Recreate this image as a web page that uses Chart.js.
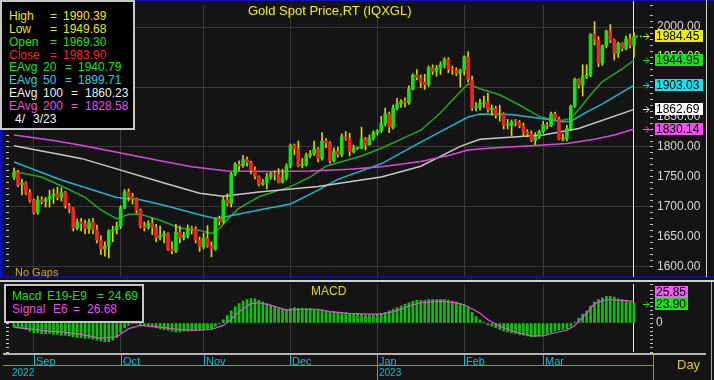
<!DOCTYPE html>
<html>
<head>
<meta charset="utf-8">
<title>Gold Spot Price</title>
<script src="https://cdn.jsdelivr.net/npm/chart.js@4.4.1/dist/chart.umd.min.js"></script>
<style>
  html, body { margin: 0; padding: 0; }
  body { width: 714px; height: 380px; background: #141414; position: relative; overflow: hidden; font-family: Arial, "Liberation Sans", sans-serif; }
  .abs { position: absolute; }
  .txt { position: absolute; white-space: pre; line-height: 1; }
  .box { position: absolute; background: #000; border: 2px solid #c8c8c8; box-sizing: border-box; }
</style>
</head>
<body>
<!-- frame lines -->
<div class="abs" style="left:0;top:0;width:714px;height:1px;background:#1010c0"></div>
<div class="abs" style="left:0;top:0;width:3px;height:278px;background:#1010b0"></div>
<div class="abs" style="left:0;top:276px;width:714px;height:2px;background:#10108c"></div>
<div class="abs" style="left:0;top:280px;width:714px;height:2px;background:#cfcfcf"></div>
<div class="abs" style="left:706px;top:0;width:1px;height:277px;background:#d0d0d0"></div>
<div class="abs" style="left:711px;top:282px;width:1px;height:98px;background:#a8a8a8"></div>

<div class="abs" style="left:3px;top:1px;width:703px;height:276px"><canvas id="priceChart"></canvas></div>
<div class="abs" style="left:3px;top:283px;width:703px;height:97px"><canvas id="macdChart"></canvas></div>

<div class="box" style="left:0;top:0;width:135px;height:130px"></div>
<div class="box" style="left:4px;top:284px;width:140px;height:39px"></div>

<script>
// Data: one bar per weekday, 25 Aug 2022 .. 3 Apr 2023
const monthLabels = ["Sep", "Oct", "Nov", "Dec", "Jan", "Feb", "Mar"];
const monthStart = [5, 27, 48, 70, 92, 114, 134];
const yearLabels = ["2022", "2023"];
const yearStart = [0, 92];

const opens = [
  1750, 1758, 1737, 1740, 1724,
  1711, 1691, 1712, 1709, 1713, 1718, 1722, 1716, 1724, 1702, 1697, 1665, 1675, 1672, 1664, 1675, 1662, 1645, 1630, 1635, 1660, 1662,
  1668, 1699, 1725, 1717, 1713, 1695, 1668, 1666, 1673, 1666, 1649, 1652, 1655, 1630, 1627, 1658, 1649, 1653, 1665, 1663, 1645,
  1634, 1648, 1635, 1630, 1681, 1676, 1712, 1706, 1755, 1771, 1769, 1779, 1774, 1761, 1751, 1738, 1740, 1750, 1755, 1754, 1741, 1749,
  1768, 1803, 1797, 1769, 1771, 1786, 1789, 1797, 1781, 1810, 1807, 1777, 1793, 1787, 1817, 1814, 1792, 1798, 1798, 1814, 1804, 1815,
  1824, 1827, 1839, 1855, 1833, 1865, 1872, 1876, 1874, 1897, 1920, 1916, 1908, 1904, 1932, 1926, 1931, 1937, 1946, 1930, 1928, 1923,
  1928, 1950, 1912, 1865, 1867, 1873, 1875, 1862, 1865, 1853, 1855, 1836, 1836, 1842, 1841, 1835, 1825, 1822, 1811, 1817,
  1826, 1837, 1835, 1855, 1847, 1813, 1814, 1831, 1868, 1913, 1903, 1918, 1920, 1988, 1978, 1940, 1969, 1993, 1978, 1956, 1973, 1964, 1980,
  1969.30
];
const highs = [
  1765, 1761, 1746, 1742, 1729,
  1713, 1718, 1717, 1716, 1728, 1730, 1733, 1732, 1726, 1706, 1699, 1680, 1681, 1678, 1680, 1681, 1670, 1652, 1642, 1662, 1668, 1675,
  1702, 1729, 1730, 1723, 1715, 1697, 1675, 1677, 1681, 1671, 1668, 1660, 1657, 1642, 1671, 1668, 1658, 1670, 1668, 1667, 1650,
  1656, 1669, 1642, 1682, 1685, 1716, 1722, 1758, 1774, 1777, 1786, 1783, 1776, 1767, 1752, 1746, 1756, 1758, 1760, 1764, 1763, 1772,
  1805, 1805, 1810, 1781, 1790, 1794, 1810, 1799, 1824, 1814, 1809, 1798, 1800, 1822, 1826, 1823, 1803, 1800, 1833, 1816, 1820, 1827,
  1829, 1851, 1865, 1858, 1870, 1881, 1879, 1882, 1902, 1922, 1929, 1920, 1921, 1935, 1937, 1936, 1942, 1949, 1949, 1935, 1932, 1930,
  1952, 1959, 1918, 1874, 1880, 1885, 1890, 1870, 1868, 1870, 1857, 1846, 1845, 1846, 1844, 1840, 1829, 1827, 1824, 1828,
  1843, 1841, 1858, 1858, 1850, 1822, 1836, 1870, 1915, 1914, 1937, 1937, 1989, 2009, 1984, 1970, 1995, 2004, 1980, 1975, 1974, 1985, 1988,
  1990.39
];
const lows = [
  1746, 1734, 1720, 1721, 1708,
  1688, 1688, 1705, 1700, 1700, 1706, 1712, 1710, 1698, 1690, 1660, 1662, 1660, 1655, 1656, 1655, 1640, 1621, 1618, 1615, 1642, 1655,
  1664, 1697, 1710, 1705, 1690, 1665, 1660, 1663, 1654, 1642, 1645, 1640, 1628, 1622, 1624, 1640, 1645, 1648, 1655, 1640, 1626,
  1630, 1633, 1617, 1628, 1670, 1673, 1702, 1700, 1752, 1761, 1766, 1768, 1755, 1747, 1735, 1736, 1730, 1746, 1745, 1740, 1740, 1745,
  1765, 1787, 1767, 1765, 1768, 1782, 1786, 1775, 1778, 1799, 1773, 1775, 1783, 1784, 1811, 1785, 1790, 1796, 1797, 1795, 1803, 1811,
  1820, 1824, 1835, 1824, 1830, 1862, 1866, 1867, 1871, 1895, 1912, 1899, 1896, 1901, 1921, 1918, 1921, 1932, 1924, 1921, 1919, 1900,
  1920, 1908, 1861, 1860, 1862, 1866, 1858, 1853, 1848, 1843, 1830, 1830, 1819, 1835, 1832, 1818, 1817, 1809, 1804, 1814,
  1823, 1830, 1834, 1846, 1812, 1810, 1810, 1827, 1866, 1898, 1885, 1914, 1917, 1970, 1934, 1936, 1965, 1974, 1945, 1949, 1960, 1962, 1965,
  1949.68
];
const closes = [
  1758, 1737, 1740, 1724, 1711,
  1691, 1712, 1709, 1713, 1718, 1722, 1716, 1724, 1702, 1697, 1665, 1675, 1672, 1664, 1675, 1662, 1645, 1630, 1635, 1660, 1662, 1668,
  1699, 1725, 1717, 1713, 1695, 1668, 1666, 1673, 1666, 1649, 1652, 1655, 1630, 1627, 1658, 1649, 1653, 1665, 1663, 1645, 1634,
  1648, 1635, 1630, 1681, 1676, 1712, 1706, 1755, 1771, 1769, 1779, 1774, 1761, 1751, 1738, 1740, 1750, 1755, 1754, 1741, 1749, 1768,
  1803, 1797, 1769, 1771, 1786, 1789, 1797, 1781, 1810, 1807, 1777, 1793, 1787, 1817, 1814, 1792, 1798, 1798, 1814, 1804, 1815, 1824,
  1827, 1839, 1855, 1833, 1865, 1872, 1876, 1874, 1897, 1920, 1916, 1908, 1904, 1932, 1926, 1931, 1937, 1946, 1930, 1928, 1923, 1928,
  1950, 1912, 1865, 1867, 1873, 1875, 1862, 1865, 1853, 1855, 1836, 1836, 1842, 1841, 1835, 1825, 1822, 1811, 1817, 1826,
  1837, 1835, 1855, 1847, 1813, 1814, 1831, 1868, 1913, 1903, 1918, 1920, 1988, 1978, 1940, 1969, 1993, 1978, 1956, 1973, 1964, 1980, 1969.30,
  1983.90
];

// moving averages at a few bars each
const ema20Idx = [0, 7, 13, 18, 22, 26, 29, 32, 37, 42, 47, 50, 52, 55, 57, 62, 70, 75, 79, 88, 93, 103, 108, 113, 115, 118, 123, 128, 133, 138, 141, 143, 146, 149, 154, 157];
const ema20Val = [1759, 1750, 1732, 1716, 1695, 1680, 1688, 1688, 1678, 1665, 1661, 1656, 1664, 1686, 1698, 1717, 1734, 1750, 1768, 1785, 1798, 1828, 1857, 1892, 1905, 1897, 1887, 1870, 1851, 1843, 1848, 1862, 1887, 1909, 1930, 1944.95];
const ema50Idx = [0, 12, 26, 32, 38, 47, 51, 53, 62, 70, 77, 82, 93, 103, 115, 118, 126, 134, 139, 141, 145, 149, 157];
const ema50Val = [1775, 1745, 1716, 1712, 1703, 1687, 1681, 1683, 1695, 1705, 1728, 1746, 1772, 1808, 1850, 1855, 1854, 1847, 1842, 1843, 1858, 1872, 1903.03];
const ema100Idx = [0, 17, 38, 47, 53, 62, 77, 93, 103, 113, 118, 134, 143, 157];
const ema100Val = [1802, 1781, 1740, 1723, 1718, 1725, 1734, 1750, 1768, 1801, 1813, 1820, 1831, 1862.69];
const ema200Idx = [0, 10, 17, 27, 38, 45, 54, 65, 75, 85, 93, 103, 110, 115, 120, 133, 140, 147, 152, 157];
const ema200Val = [1820, 1811, 1803, 1790, 1776, 1767, 1760, 1759, 1760, 1763, 1767, 1776, 1786, 1795, 1798, 1803, 1806, 1813, 1820, 1830.14];

const macdVals = [
  -5, -6, -7, -8, -10, -12, -12, -13, -13, -13,
  -14, -14, -15, -15, -16, -17, -18, -18, -19, -19,
  -20, -21, -22, -23, -23, -21, -18, -12, -6, -3,
  -1, -1, -2, -3, -4, -5, -6, -7, -8, -9,
  -10, -11, -11, -10, -10, -9, -9, -9, -8, -8,
  -7, -4, -1, 4, 9, 15, 20, 24, 27, 29,
  30, 30, 28, 26, 24, 22, 20, 18, 17, 17,
  18, 19, 18, 18, 18, 18, 17, 16, 16, 15,
  14, 14, 13, 13, 12, 12, 11, 11, 11, 10,
  10, 10, 11, 12, 13, 15, 17, 19, 21, 23,
  25, 27, 28, 28, 28, 29, 29, 29, 29, 29,
  28, 27, 26, 24, 23, 19, 13, 8, 4, 1,
  -2, -4, -6, -8, -10, -11, -12, -13, -14, -15,
  -16, -17, -17, -16, -15, -14, -12, -10, -9, -8,
  -7, -4, 1, 6, 11, 15, 21, 26, 29, 31,
  33, 33, 32, 30, 29, 28, 26, 24.69
];
const signalIdx = [0, 7, 12, 17, 22, 26, 29, 32, 37, 40, 45, 50, 53, 55, 57, 60, 62, 65, 69, 73, 77, 80, 85, 90, 93, 96, 98, 100, 103, 108, 110, 113, 115, 118, 120, 123, 127, 131, 134, 137, 140, 142, 145, 147, 150, 154, 157];
const signalVal = [-5, -9, -11, -14, -19, -17, -7, -3, -5, -7, -9, -8, -3, 5, 14, 24, 25, 22, 16, 17, 17, 14, 12, 11, 11, 14, 17, 21, 25, 27, 26, 24, 20, 12, 4, -4, -11, -16, -16, -12, -9, -3, 12, 24, 29, 28, 26.68];

const priceTagValues = [1984.45, 1944.95, 1903.03, 1862.69, 1830.14];
const priceTagColors = ["#eeee00", "#18e018", "#10e0f0", "#ffffff", "#f050f0"];
const macdTagValues = [23.90, 25.85];
const macdTagColors = ["#18e018", "#f060f0"];

const cursorIndex = 157;

// Colours
const UP = "#14e014";
const DOWN = "#f02424";
const WICK = "#d8d800";
const GRID = "#3a3a3a";
const CYAN = "#18b8c4";

// x range so that bar 0 sits at x=14 and bar 157 at x=634
const X_MIN = -1.27;
const X_MAX = 161.05;

Chart.defaults.font.family = "Arial, 'Liberation Sans', sans-serif";

const pts = (xs, ys) => xs.map((x, k) => ({ x, y: ys[k] }));

function emaLine(xs, ys, color) {
  return {
    type: "line",
    data: pts(xs, ys),
    borderColor: color,
    borderWidth: 1.5,
    pointRadius: 0,
    tension: 0,
    order: 10,
  };
}

function drawArrow(ctx, x, y, color) {
  ctx.strokeStyle = color;
  ctx.lineWidth = 1;
  ctx.beginPath();
  ctx.moveTo(x, y + 0.5);
  ctx.lineTo(x + 6, y + 0.5);
  ctx.moveTo(x + 3, y - 2.5);
  ctx.lineTo(x + 6, y + 0.5);
  ctx.lineTo(x + 3, y + 3.5);
  ctx.stroke();
}

function monthGridX() {
  return {
    type: "linear",
    min: X_MIN,
    max: X_MAX,
    offset: false,
    grid: { color: GRID, drawTicks: false, offset: false },
    border: { display: false },
    ticks: { display: false },
    afterBuildTicks: (s) => {
      s.ticks = monthStart.map((v) => ({ value: v }));
    },
    afterFit: (s) => {
      s.height = 0;
      s.paddingLeft = 0;
      s.paddingRight = 0;
    },
  };
}

function leftTicks(min, max, step) {
  return {
    position: "left",
    min,
    max,
    grid: { drawOnChartArea: false, color: "#d0d0d0", tickColor: "#d0d0d0", tickLength: 3 },
    border: { display: false },
    ticks: { display: false, stepSize: step, autoSkip: false, maxTicksLimit: 200 },
    afterFit: (s) => {
      s.width = 6;
      s.paddingTop = 0;
      s.paddingBottom = 0;
    },
  };
}

// Price panel
const priceMarks = {
  id: "priceMarks",
  beforeDatasetsDraw(chart) {
    const { ctx, chartArea, scales } = chart;
    const cx = Math.round(scales.x.getPixelForValue(cursorIndex)) - 0.5;
    ctx.save();
    ctx.strokeStyle = "#e8e8e8";
    ctx.lineWidth = 1;
    ctx.beginPath();
    ctx.moveTo(cx, 0);
    ctx.lineTo(cx, chartArea.bottom);
    ctx.stroke();
    ctx.restore();
  },
  afterDraw(chart) {
    const { ctx, chartArea, scales } = chart;
    ctx.save();
    // last price marker
    const lx = scales.x.getPixelForValue(cursorIndex);
    const ly = Math.round(scales.y.getPixelForValue(priceTagValues[0])) + 0.5;
    ctx.strokeStyle = "#20d020";
    ctx.lineWidth = 2;
    ctx.setLineDash([2, 2]);
    ctx.beginPath();
    ctx.moveTo(lx + 2, ly);
    ctx.lineTo(lx + 9, ly);
    ctx.stroke();
    ctx.setLineDash([]);

    ctx.font = "12px Arial, 'Liberation Sans', sans-serif";
    ctx.textBaseline = "middle";
    priceTagValues.forEach((v, k) => {
      const py = Math.round(scales.y.getPixelForValue(v));
      const bx = chartArea.right + 5;
      ctx.fillStyle = priceTagColors[k];
      ctx.fillRect(bx, py - 6, 48, 12);
      ctx.fillStyle = "#000";
      ctx.fillText(v.toFixed(2), bx + 1, py + 1);
      drawArrow(ctx, chartArea.right - 7, py, priceTagColors[k]);
    });
    ctx.restore();
  },
};

new Chart(document.getElementById("priceChart"), {
  type: "bar",
  data: {
    datasets: [
      emaLine(ema200Idx, ema200Val, "#dc48dc"),
      emaLine(ema100Idx, ema100Val, "#c8c8c8"),
      emaLine(ema50Idx, ema50Val, "#18b8c8"),
      emaLine(ema20Idx, ema20Val, "#22a822"),
      {
        label: "wick",
        data: lows.map((l, i) => ({ x: i, y: [l, highs[i]] })),
        backgroundColor: WICK,
        barThickness: 1,
        grouped: false,
        order: 3,
      },
      {
        label: "body",
        data: opens.map((o, i) => ({ x: i, y: [o, closes[i]] })),
        backgroundColor: opens.map((o, i) => (closes[i] >= o ? UP : DOWN)),
        barThickness: 3,
        minBarLength: 1,
        grouped: false,
        order: 2,
      },
    ],
  },
  options: {
    responsive: true,
    maintainAspectRatio: false,
    animation: false,
    layout: { padding: { top: 4, bottom: 0, left: 0, right: 0 } },
    plugins: { legend: { display: false }, tooltip: { enabled: false } },
    scales: {
      x: monthGridX(),
      y: {
        position: "right",
        min: 1583.33,
        max: 2036.67,
        grid: {
          color: (c) => (c.tick && c.tick.value % 100 === 0 ? GRID : "transparent"),
          tickColor: "#c0c0c0",
          tickLength: 3,
        },
        border: { display: false },
        ticks: {
          stepSize: 10,
          autoSkip: false,
          maxTicksLimit: 200,
          padding: 4,
          color: "#d8d8d8",
          font: { size: 12 },
          callback: (v) => (v % 50 === 0 ? v.toFixed(2) : ""),
        },
        afterFit: (s) => {
          s.width = 56;
          s.paddingTop = 0;
          s.paddingBottom = 0;
        },
      },
      yl: leftTicks(1583.33, 2036.67, 10),
    },
  },
  plugins: [priceMarks],
});

// MACD panel + date row
const macdMarks = {
  id: "macdMarks",
  beforeDatasetsDraw(chart) {
    const { ctx, chartArea, scales } = chart;
    const cx = Math.round(scales.x.getPixelForValue(cursorIndex)) - 0.5;
    ctx.save();
    ctx.strokeStyle = "#e8e8e8";
    ctx.lineWidth = 1;
    ctx.beginPath();
    ctx.moveTo(cx, chartArea.top);
    ctx.lineTo(cx, chartArea.bottom);
    ctx.stroke();
    ctx.restore();
  },
  afterDraw(chart) {
    const { ctx, chartArea, scales } = chart;
    const x = scales.x;
    ctx.save();

    // value tags
    ctx.font = "12px Arial, 'Liberation Sans', sans-serif";
    ctx.textBaseline = "middle";
    const gy = Math.round(scales.y.getPixelForValue(macdTagValues[0]));
    const bx = chartArea.right + 5;
    [gy, gy - 12].forEach((py, k) => {
      ctx.fillStyle = macdTagColors[k];
      ctx.fillRect(bx, py - 6, 33, 12);
      ctx.fillStyle = "#000";
      ctx.fillText(macdTagValues[k].toFixed(2), bx + 1, py + 1);
    });
    drawArrow(ctx, chartArea.right - 7, gy, macdTagColors[0]);

    // date row under the panel
    const top = chartArea.bottom;
    ctx.fillStyle = "#b4b4b4";
    ctx.fillRect(0, top + 1, chart.width, 2);

    const lineY = top + 13.5;
    const rightX = chartArea.right + 3.5;
    ctx.strokeStyle = CYAN;
    ctx.lineWidth = 1;
    ctx.beginPath();
    ctx.moveTo(0, lineY);
    ctx.lineTo(rightX, lineY);
    ctx.moveTo(rightX, top + 3);
    ctx.lineTo(rightX, chart.height);
    monthStart.forEach((m) => {
      const px = Math.round(x.getPixelForValue(m)) + 0.5;
      ctx.moveTo(px, top + 3);
      ctx.lineTo(px, yearStart.includes(m) ? chart.height : lineY);
    });
    ctx.stroke();

    ctx.fillStyle = CYAN;
    ctx.font = "11px Arial, 'Liberation Sans', sans-serif";
    ctx.textBaseline = "alphabetic";
    monthLabels.forEach((lab, k) => {
      ctx.fillText(lab, Math.round(x.getPixelForValue(monthStart[k])) + 2, lineY - 1);
    });
    ctx.font = "10px Arial, 'Liberation Sans', sans-serif";
    yearLabels.forEach((lab, k) => {
      ctx.fillText(lab, Math.round(x.getPixelForValue(yearStart[k])) + (k === 0 ? -2 : 2), lineY + 10.5);
    });
    ctx.restore();
  },
};

new Chart(document.getElementById("macdChart"), {
  type: "bar",
  data: {
    datasets: [
      {
        type: "line",
        data: pts(signalIdx, signalVal),
        borderColor: "#e050e0",
        borderWidth: 1.2,
        pointRadius: 0,
        tension: 0,
        order: 1,
      },
      {
        data: macdVals.map((v, i) => ({ x: i, y: v })),
        backgroundColor: "#10c010",
        barThickness: 2,
        grouped: false,
        order: 2,
      },
    ],
  },
  options: {
    responsive: true,
    maintainAspectRatio: false,
    animation: false,
    layout: { padding: { top: 1, bottom: 28, left: 0, right: 0 } },
    plugins: { legend: { display: false }, tooltip: { enabled: false } },
    scales: {
      x: monthGridX(),
      y: {
        position: "right",
        min: -35.8,
        max: 48.15,
        grid: { drawOnChartArea: false, tickColor: "#c0c0c0", tickLength: 3 },
        border: { display: false },
        ticks: {
          stepSize: 5,
          autoSkip: false,
          maxTicksLimit: 200,
          padding: 3,
          color: "#d8d8d8",
          font: { size: 12 },
          callback: (v) => (v === 0 ? "0" : ""),
        },
        afterFit: (s) => {
          s.width = 56;
          s.paddingTop = 0;
          s.paddingBottom = 0;
        },
      },
      yl: leftTicks(-35.8, 48.15, 5),
    },
  },
  plugins: [macdMarks],
});

// Texts
function put(text, x, y, color, size) {
  const el = document.createElement("div");
  el.className = "txt";
  el.textContent = text;
  el.style.left = x + "px";
  el.style.top = y + "px";
  el.style.color = color;
  el.style.fontSize = (size || 12) + "px";
  document.body.appendChild(el);
}

const YEL = "#e8e800", GRN = "#18e018", RED = "#f02828", CYN = "#20d0e0", WHT = "#f0f0f0", MAG = "#e850e8";
const rowY = (i) => 10.1 + 12.8 * i;

put("High", 9, rowY(0), YEL); put("=", 50, rowY(0), YEL); put("1990.39", 63, rowY(0), YEL);
put("Low", 9, rowY(1), YEL); put("=", 50, rowY(1), YEL); put("1949.68", 63, rowY(1), YEL);
put("Open", 9, rowY(2), GRN); put("=", 50, rowY(2), GRN); put("1969.30", 63, rowY(2), GRN);
put("Close", 9, rowY(3), RED); put("=", 50, rowY(3), RED); put("1983.90", 63, rowY(3), RED);
put("EAvg", 9, rowY(4), GRN); put("20", 43, rowY(4), GRN); put("=", 65, rowY(4), GRN); put("1940.79", 78, rowY(4), GRN);
put("EAvg", 9, rowY(5), CYN); put("50", 43, rowY(5), CYN); put("=", 65, rowY(5), CYN); put("1899.71", 78, rowY(5), CYN);
put("EAvg", 9, rowY(6), WHT); put("100", 43, rowY(6), WHT); put("=", 71, rowY(6), WHT); put("1860.23", 85, rowY(6), WHT);
put("EAvg", 9, rowY(7), MAG); put("200", 43, rowY(7), MAG); put("=", 71, rowY(7), MAG); put("1828.58", 85, rowY(7), MAG);
put("4/", 15, rowY(8), WHT); put("3/23", 33, rowY(8), WHT);

put("Macd", 12, 290.1, GRN); put("E19-E9", 47, 290.1, GRN); put("=", 97, 290.1, GRN); put("24.69", 108, 290.1, GRN);
put("Signal", 12, 303.4, MAG); put("E6", 53, 303.4, MAG); put("=", 73, 303.4, MAG); put("26.68", 87, 303.4, MAG);

put("Gold Spot Price,RT (IQXGL)", 248, 3.5, "#f0f000", 13);
put("MACD", 311, 285, "#e0d800", 12);
put("No Gaps", 15, 266.8, "#c0b800", 11);
put("Day", 677, 358, "#d8d000", 13);
</script>
</body>
</html>
